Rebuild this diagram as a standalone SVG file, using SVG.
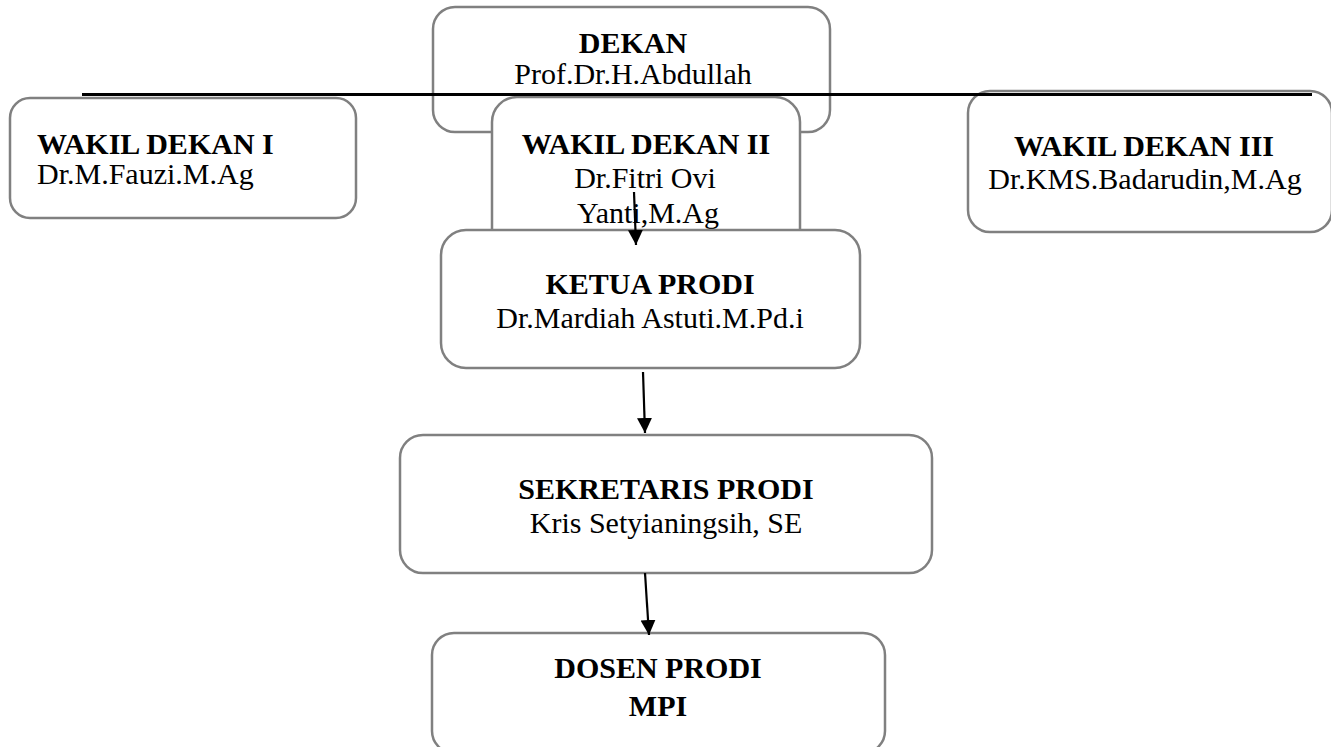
<svg xmlns="http://www.w3.org/2000/svg" width="1331" height="747" viewBox="0 0 1331 747">
<style>
.box{fill:#ffffff;stroke:#808080;stroke-width:2.5}
.t{font-family:"Liberation Serif","Times New Roman",serif;font-size:30px;fill:#000}
.b{font-weight:bold}
.m{text-anchor:middle}
.c{stroke:#000;stroke-width:2.2;fill:none}
</style>
<defs>
<marker id="ah" markerUnits="userSpaceOnUse" markerWidth="18" markerHeight="16" refX="15" refY="7.5" orient="auto">
<polygon points="0,0 15,7.5 0,15" fill="#000"/>
</marker>
</defs>
<rect width="1331" height="747" fill="#fff"/>
<g id="dekan">
<rect class="box" x="433" y="7" width="397" height="125" rx="22"/>
<text class="t b m" x="633" y="53">DEKAN</text>
<text class="t m" x="633" y="84">Prof.Dr.H.Abdullah</text>
</g>
<g id="wakil-dekan-2">
<rect class="box" x="492" y="97" width="308" height="170" rx="25"/>
<text class="t b m" x="646" y="154">WAKIL DEKAN II</text>
<text class="t m" x="645" y="188">Dr.Fitri Ovi</text>
<text class="t m" x="648" y="223">Yanti,M.Ag</text>
</g>
<g id="wakil-dekan-1">
<rect class="box" x="10" y="98" width="346" height="120" rx="20"/>
<text class="t b" x="37" y="154">WAKIL DEKAN I</text>
<text class="t" x="37" y="184">Dr.M.Fauzi.M.Ag</text>
</g>
<g id="wakil-dekan-3">
<rect class="box" x="968" y="91" width="364" height="141" rx="22"/>
<text class="t b m" x="1144" y="156">WAKIL DEKAN III</text>
<text class="t m" x="1145" y="189">Dr.KMS.Badarudin,M.Ag</text>
</g>
<g id="ketua-prodi">
<rect class="box" x="441" y="230" width="419" height="138" rx="25"/>
<text class="t b m" x="650" y="294">KETUA PRODI</text>
<text class="t m" x="650" y="328">Dr.Mardiah Astuti.M.Pd.i</text>
</g>
<g id="sekretaris-prodi">
<rect class="box" x="400" y="435" width="532" height="138" rx="23"/>
<text class="t b m" x="666" y="499">SEKRETARIS PRODI</text>
<text class="t m" x="666" y="533">Kris Setyianingsih, SE</text>
</g>
<g id="dosen-prodi">
<rect class="box" x="432" y="633" width="453" height="120" rx="22"/>
<text class="t b m" x="658" y="678">DOSEN PRODI</text>
<text class="t b m" x="658" y="716">MPI</text>
</g>
<g id="connectors">
<line x1="82" y1="94.5" x2="1312" y2="94.5" stroke="#000" stroke-width="3"/>
<line class="c" x1="634" y1="192" x2="636" y2="245" marker-end="url(#ah)"/>
<line class="c" x1="643" y1="372" x2="645" y2="433" marker-end="url(#ah)"/>
<line class="c" x1="645" y1="573" x2="649" y2="635" marker-end="url(#ah)"/>
</g>
</svg>
